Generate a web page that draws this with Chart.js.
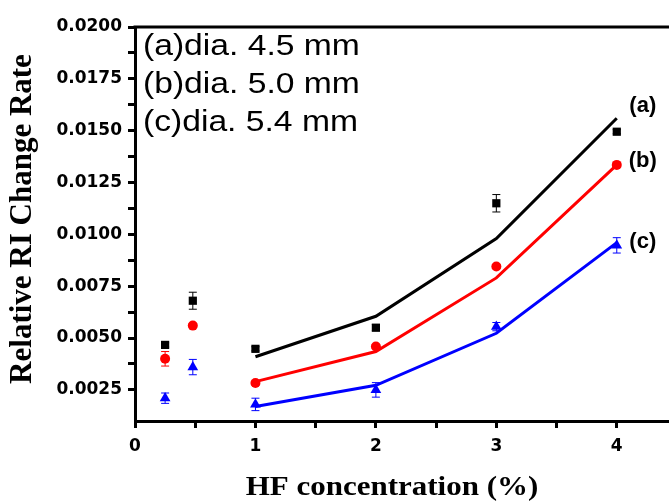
<!DOCTYPE html>
<html>
<head>
<meta charset="utf-8">
<script src="https://cdn.jsdelivr.net/npm/chart.js@4/dist/chart.umd.min.js"></script>
<style>
  html, body { margin: 0; padding: 0; background: #fff; overflow: hidden; }
  #riChart { display: block; }
</style>
</head>
<body>
<canvas id="riChart" width="685" height="504"></canvas>
<script>
// measured points (HF %, relative RI change rate) and error bars
const hfConc = [0.25, 0.48, 1, 2, 3, 4];
const rateA = [0.00467, 0.0068, 0.00448, 0.0055, 0.0115, 0.01495];
const errA  = [0.0001, 0.00041, 0.0001, 0.00015, 0.00042, 0.0001];
const rateB = [0.0040, 0.0056, 0.00283, 0.00459, 0.00845, 0.01335];
const errB  = [0.00035, 0.0001, 0.0001, 0.0001, 0.0001, 0.0001];
const rateC = [0.0021, 0.0036, 0.0018, 0.0025, 0.00555, 0.00947];
const errC  = [0.00025, 0.00037, 0.0003, 0.00035, 0.0002, 0.00037];

// fitted curves
const fitConc = [1, 2, 3, 4];
const fitA = [0.0041, 0.00605, 0.0098, 0.0156];
const fitB = [0.0029, 0.00435, 0.0079, 0.01335];
const fitC = [0.0017, 0.00272, 0.00523, 0.0096];

const legendLines = ['(a)dia. 4.5 mm', '(b)dia. 5.0 mm', '(c)dia. 5.4 mm'];
const curveTags = ['(a)', '(b)', '(c)'];

const BLACK = '#000000';
const RED = '#ff0000';
const BLUE = '#0000ff';

const toXY = (xs, ys) => xs.map((x, i) => ({ x, y: ys[i] }));
const onStep = (v, step) => Math.abs(Math.round(v / step) * step - v) < 1e-7;

const errorBars = {
  id: 'errorBars',
  afterDatasetsDraw(chart) {
    const { ctx, scales: { x, y } } = chart;
    chart.data.datasets.forEach(ds => {
      if (!ds.err) return;
      ctx.save();
      ctx.strokeStyle = ds.borderColor;
      ctx.lineWidth = 1;
      ds.data.forEach((p, i) => {
        const e = ds.err[i];
        if (!e) return;
        const px = x.getPixelForValue(p.x);
        const top = y.getPixelForValue(p.y + e);
        const bot = y.getPixelForValue(p.y - e);
        ctx.beginPath();
        ctx.moveTo(px, top); ctx.lineTo(px, bot);
        ctx.moveTo(px - 4, top); ctx.lineTo(px + 4, top);
        ctx.moveTo(px - 4, bot); ctx.lineTo(px + 4, bot);
        ctx.stroke();
      });
      ctx.restore();
    });
  }
};

const decorations = {
  id: 'decorations',
  afterDraw(chart) {
    const { ctx, chartArea, scales: { x, y } } = chart;
    ctx.save();
    // top frame line
    ctx.strokeStyle = BLACK;
    ctx.lineWidth = 3;
    ctx.beginPath();
    ctx.moveTo(chartArea.left - 1.5, chartArea.top);
    ctx.lineTo(chart.width, chartArea.top);
    ctx.stroke();

    ctx.fillStyle = BLACK;
    // legend text (slightly wide, like the original)
    ctx.font = '29px "Liberation Sans", Arial, sans-serif';
    ctx.textBaseline = 'middle';
    ctx.textAlign = 'left';
    legendLines.forEach((t, i) => {
      ctx.save();
      ctx.translate(143, 47 + i * 38);
      ctx.scale(1.16, 1);
      ctx.fillText(t, 0, 0);
      ctx.restore();
    });

    // curve tags next to the fitted lines
    ctx.font = 'bold 22px "Liberation Sans", Arial, sans-serif';
    ctx.textAlign = 'center';
    const xEnd = x.getPixelForValue(fitConc[fitConc.length - 1]) + 26;
    const ends = [fitA, fitB, fitC].map(f => y.getPixelForValue(f[f.length - 1]));
    const offs = [-12, -4, -1];
    curveTags.forEach((t, i) => ctx.fillText(t, xEnd, ends[i] + offs[i]));

    // axis titles
    ctx.font = 'bold 31px "Liberation Serif", "Times New Roman", serif';
    ctx.save();
    ctx.translate(23, 219);
    ctx.rotate(-Math.PI / 2);
    ctx.fillText('Relative RI Change Rate', 0, 0);
    ctx.restore();

    ctx.save();
    ctx.translate(392, 488);
    ctx.scale(1.0, 0.87);
    ctx.fillText('HF concentration (%)', 0, 0);
    ctx.restore();
    ctx.restore();
  }
};

const tickFont = { family: 'DejaVu Sans', weight: 'bold', size: 17 };

new Chart(document.getElementById('riChart'), {
  type: 'scatter',
  data: {
    datasets: [
      { data: toXY(hfConc, rateA), err: errA, backgroundColor: BLACK, borderColor: BLACK, pointStyle: 'rect', pointRadius: 5.8, borderWidth: 0 },
      { data: toXY(hfConc, rateB), err: errB, backgroundColor: RED, borderColor: RED, pointStyle: 'circle', pointRadius: 5, borderWidth: 0 },
      { data: toXY(hfConc, rateC), err: errC, backgroundColor: BLUE, borderColor: BLUE, pointStyle: 'triangle', pointRadius: 6.2, borderWidth: 0 },
      { data: toXY(fitConc, fitA), showLine: true, borderColor: BLACK, borderWidth: 3, pointRadius: 0, tension: 0 },
      { data: toXY(fitConc, fitB), showLine: true, borderColor: RED, borderWidth: 3, pointRadius: 0, tension: 0 },
      { data: toXY(fitConc, fitC), showLine: true, borderColor: BLUE, borderWidth: 3, pointRadius: 0, tension: 0 },
    ],
  },
  options: {
    responsive: false,
    animation: false,
    devicePixelRatio: 1,
    layout: { padding: { top: 27, right: 0, left: 0, bottom: 0 } },
    plugins: { legend: { display: false }, tooltip: { enabled: false } },
    scales: {
      x: {
        type: 'linear',
        min: 0,
        max: 4.5,
        afterFit: s => { s.height = 83; },
        border: { display: true, color: BLACK, width: 3 },
        grid: {
          drawOnChartArea: false,
          drawTicks: true,
          tickLength: 7,
          tickWidth: 3,
          tickColor: c => (c.tick && onStep(c.tick.value, 0.5)) ? BLACK : 'rgba(0,0,0,0)',
        },
        ticks: {
          stepSize: 0.5,
          autoSkip: false,
          maxRotation: 0,
          padding: 8,
          color: BLACK,
          font: tickFont,
          callback: v => (onStep(v, 1) && v < 4.4) ? String(Math.round(v)) : '',
        },
      },
      y: {
        type: 'linear',
        min: 0.001,
        max: 0.02,
        afterFit: s => { s.width = 135; },
        border: { display: true, color: BLACK, width: 3 },
        grid: {
          drawOnChartArea: false,
          drawTicks: true,
          tickLength: 7,
          tickWidth: 3,
          tickColor: c => (c.tick && onStep(c.tick.value, 0.00125)) ? BLACK : 'rgba(0,0,0,0)',
        },
        ticks: {
          stepSize: 0.00125,
          autoSkip: false,
          padding: 6,
          color: BLACK,
          font: tickFont,
          callback: v => onStep(v, 0.0025) ? v.toFixed(4) : '',
        },
      },
    },
  },
  plugins: [errorBars, decorations],
});
</script>
</body>
</html>
